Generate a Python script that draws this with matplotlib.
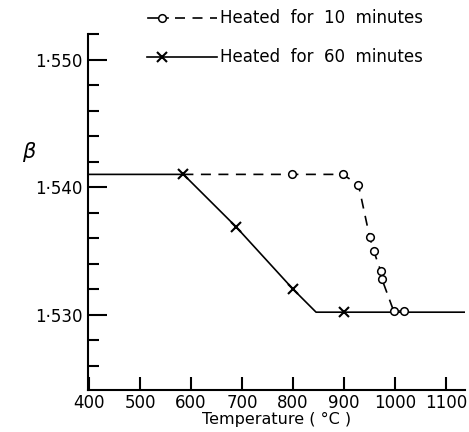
import matplotlib
matplotlib.use("Agg")
import matplotlib.pyplot as plt
from matplotlib.lines import Line2D
from matplotlib.ticker import FixedLocator, MultipleLocator

# heated for 60 minutes (solid line, x markers)
t60 = [400, 585, 688, 800, 845, 900, 1137]
b60 = [1.5410, 1.5410, 1.5369, 1.5320, 1.5302, 1.5302, 1.5302]
mark60 = [1, 2, 3, 5]

# heated for 10 minutes (dashed line, open circles)
t10 = [585, 797, 897, 928, 950, 958, 972, 974, 997, 1018]
b10 = [1.5410, 1.5410, 1.5410, 1.5402, 1.5361, 1.5350, 1.5334, 1.5328, 1.5303, 1.5303]
mark10 = [1, 2, 3, 4, 5, 6, 7, 8, 9]

x_ticks = [400, 500, 600, 700, 800, 900, 1000, 1100]
y_major = [1.530, 1.540, 1.550]
y_labels = ["1·530", "1·540", "1·550"]
legend_labels = ["Heated  for  10  minutes", "Heated  for  60  minutes"]

plt.rcParams["font.family"] = ["DejaVu Sans"]

fig = plt.figure(figsize=(4.69, 4.32), dpi=100)
ax = fig.add_axes([0.1876, 0.0972, 0.804, 0.824])

dash = (0, (6, 4.5))
ax.plot(t60, b60, color="black", lw=1.2, marker="x", ms=7, mew=1.5,
        markevery=mark60)
ax.plot(t10, b10, color="black", lw=1.2, ls=dash, marker="o", ms=5.5,
        mew=1.1, mfc="white", markevery=mark10)

ax.set_xlim(398, 1137)
ax.set_ylim(1.5241, 1.5520)

for side in ("top", "right"):
    ax.spines[side].set_visible(False)
for side in ("left", "bottom"):
    ax.spines[side].set_linewidth(1.5)

ax.set_xticks(x_ticks)
ax.set_xticklabels([str(t) for t in x_ticks])
ax.yaxis.set_major_locator(FixedLocator(y_major))
ax.set_yticklabels(y_labels)
ax.yaxis.set_minor_locator(MultipleLocator(0.002))
ax.tick_params(axis="x", direction="in", length=9.5, width=1.5, pad=3,
               labelsize=12)
ax.tick_params(axis="y", which="major", direction="in", length=14, width=1.5,
               pad=4, labelsize=12)
ax.tick_params(axis="y", which="minor", direction="in", length=8, width=1.5)

ax.set_xlabel("Temperature ( °C )", fontsize=11.5, labelpad=0)
fig.text(22 / 469, 1 - 152 / 432, "β", fontsize=15, style="italic",
         ha="left", va="center")

# legend drawn in figure coordinates, like the hand-lettered original
W, H = 469, 432
def fx(px):
    return px / W
def fy(py):
    return 1 - py / H

fig.add_artist(Line2D([fx(148), fx(168)], [fy(18), fy(18)], color="black", lw=1.2))
fig.add_artist(Line2D([fx(162)], [fy(18)], color="black", marker="o", ms=5.5,
                      mew=1.1, mfc="white"))
fig.add_artist(Line2D([fx(175), fx(217)], [fy(18), fy(18)], color="black",
                      lw=1.2, ls=dash))
fig.add_artist(Line2D([fx(147), fx(217)], [fy(57), fy(57)], color="black", lw=1.2))
fig.add_artist(Line2D([fx(162)], [fy(57)], color="black", marker="x", ms=7,
                      mew=1.5, mfc="white", ls="none"))
fig.text(fx(220), fy(18), legend_labels[0], fontsize=12, va="center", ha="left")
fig.text(fx(220), fy(57), legend_labels[1], fontsize=12, va="center", ha="left")

fig.savefig("out.png", dpi=100)
